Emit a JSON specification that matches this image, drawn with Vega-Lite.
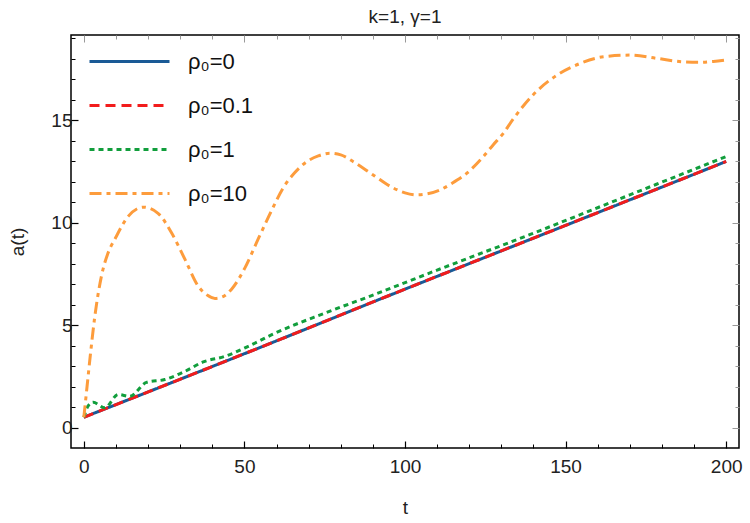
{
  "$schema": "https://vega.github.io/schema/vega-lite/v6.json",
  "autosize": {"type": "none"},
  "padding": {"left": 71, "top": 35, "right": 11, "bottom": 75},
  "width": 668,
  "height": 413,
  "title": {"text": "k=1, γ=1", "fontSize": 19, "font": "Liberation Sans", "fontWeight": "normal", "color": "#222", "offset": 8, "anchor": "middle"},
  "config": {
    "view": {"stroke": "black", "strokeWidth": 1.5},
    "axis": {"grid": false, "domain": false, "labelFont": "Liberation Sans", "titleFont": "Liberation Sans", "labelColor": "#222", "titleColor": "#222", "titleFontWeight": "normal"}
  },
  "datasets": {
    "curves": [
      {"t": 0, "a": 0.5, "s": "ρ₀=0"},
      {"t": 50, "a": 3.6, "s": "ρ₀=0"},
      {"t": 100, "a": 6.75, "s": "ρ₀=0"},
      {"t": 150, "a": 9.86, "s": "ρ₀=0"},
      {"t": 200, "a": 12.98, "s": "ρ₀=0"},
      {"t": 0, "a": 0.5, "s": "ρ₀=0.1"},
      {"t": 50, "a": 3.6, "s": "ρ₀=0.1"},
      {"t": 100, "a": 6.75, "s": "ρ₀=0.1"},
      {"t": 150, "a": 9.86, "s": "ρ₀=0.1"},
      {"t": 200, "a": 12.98, "s": "ρ₀=0.1"},
      {"t": 0, "a": 0.5, "s": "ρ₀=1"},
      {"t": 1.3, "a": 1.04, "s": "ρ₀=1"},
      {"t": 2.9, "a": 1.23, "s": "ρ₀=1"},
      {"t": 6.5, "a": 0.96, "s": "ρ₀=1"},
      {"t": 10.7, "a": 1.61, "s": "ρ₀=1"},
      {"t": 14.3, "a": 1.52, "s": "ρ₀=1"},
      {"t": 19.5, "a": 2.2, "s": "ρ₀=1"},
      {"t": 25.2, "a": 2.34, "s": "ρ₀=1"},
      {"t": 31.5, "a": 2.74, "s": "ρ₀=1"},
      {"t": 37.2, "a": 3.2, "s": "ρ₀=1"},
      {"t": 43.9, "a": 3.47, "s": "ρ₀=1"},
      {"t": 51.2, "a": 3.96, "s": "ρ₀=1"},
      {"t": 59.5, "a": 4.6, "s": "ρ₀=1"},
      {"t": 75, "a": 5.58, "s": "ρ₀=1"},
      {"t": 89, "a": 6.4, "s": "ρ₀=1"},
      {"t": 110, "a": 7.68, "s": "ρ₀=1"},
      {"t": 139, "a": 9.42, "s": "ρ₀=1"},
      {"t": 170, "a": 11.35, "s": "ρ₀=1"},
      {"t": 200, "a": 13.22, "s": "ρ₀=1"},
      {"t": 0, "a": 0.5, "s": "ρ₀=10"},
      {"t": 1, "a": 2.0, "s": "ρ₀=10"},
      {"t": 2, "a": 3.5, "s": "ρ₀=10"},
      {"t": 3.4, "a": 5.4, "s": "ρ₀=10"},
      {"t": 5.5, "a": 7.4, "s": "ρ₀=10"},
      {"t": 7.5, "a": 8.5, "s": "ρ₀=10"},
      {"t": 9.7, "a": 9.2, "s": "ρ₀=10"},
      {"t": 13.8, "a": 10.3, "s": "ρ₀=10"},
      {"t": 18.5, "a": 10.75, "s": "ρ₀=10"},
      {"t": 23.1, "a": 10.45, "s": "ρ₀=10"},
      {"t": 27.3, "a": 9.5, "s": "ρ₀=10"},
      {"t": 31.5, "a": 8.2, "s": "ρ₀=10"},
      {"t": 35.6, "a": 6.9, "s": "ρ₀=10"},
      {"t": 38.5, "a": 6.45, "s": "ρ₀=10"},
      {"t": 40.8, "a": 6.3, "s": "ρ₀=10"},
      {"t": 43.5, "a": 6.4, "s": "ρ₀=10"},
      {"t": 46, "a": 6.75, "s": "ρ₀=10"},
      {"t": 50.2, "a": 7.8, "s": "ρ₀=10"},
      {"t": 54.3, "a": 9.2, "s": "ρ₀=10"},
      {"t": 58.5, "a": 10.6, "s": "ρ₀=10"},
      {"t": 62.1, "a": 11.7, "s": "ρ₀=10"},
      {"t": 65.5, "a": 12.4, "s": "ρ₀=10"},
      {"t": 69.4, "a": 12.97, "s": "ρ₀=10"},
      {"t": 73, "a": 13.25, "s": "ρ₀=10"},
      {"t": 76.6, "a": 13.38, "s": "ρ₀=10"},
      {"t": 80, "a": 13.3, "s": "ρ₀=10"},
      {"t": 83.9, "a": 12.97, "s": "ρ₀=10"},
      {"t": 90.1, "a": 12.32, "s": "ρ₀=10"},
      {"t": 96.4, "a": 11.68, "s": "ρ₀=10"},
      {"t": 100, "a": 11.45, "s": "ρ₀=10"},
      {"t": 103.6, "a": 11.35, "s": "ρ₀=10"},
      {"t": 107, "a": 11.4, "s": "ρ₀=10"},
      {"t": 110.9, "a": 11.59, "s": "ρ₀=10"},
      {"t": 114.5, "a": 11.9, "s": "ρ₀=10"},
      {"t": 119.2, "a": 12.4, "s": "ρ₀=10"},
      {"t": 124.4, "a": 13.22, "s": "ρ₀=10"},
      {"t": 127.5, "a": 13.8, "s": "ρ₀=10"},
      {"t": 130.6, "a": 14.35, "s": "ρ₀=10"},
      {"t": 133.7, "a": 15.05, "s": "ρ₀=10"},
      {"t": 140, "a": 16.25, "s": "ρ₀=10"},
      {"t": 147.3, "a": 17.19, "s": "ρ₀=10"},
      {"t": 154.5, "a": 17.76, "s": "ρ₀=10"},
      {"t": 161.8, "a": 18.09, "s": "ρ₀=10"},
      {"t": 170.1, "a": 18.17, "s": "ρ₀=10"},
      {"t": 178.4, "a": 18.01, "s": "ρ₀=10"},
      {"t": 186.7, "a": 17.84, "s": "ρ₀=10"},
      {"t": 191.9, "a": 17.82, "s": "ρ₀=10"},
      {"t": 196, "a": 17.86, "s": "ρ₀=10"},
      {"t": 200, "a": 17.93, "s": "ρ₀=10"}
    ]
  },
  "data": {"name": "curves"},
  "resolve": {"axis": {"x": "independent", "y": "independent"}},
  "layer": [
    {
      "mark": {"type": "line", "strokeWidth": 3, "interpolate": "monotone", "clip": true},
      "encoding": {
        "x": {"field": "t", "type": "quantitative", "scale": {"domain": [-4, 204], "nice": false, "zero": false},
              "axis": {"orient": "bottom", "title": "t", "values": [0, 50, 100, 150, 200], "tickSize": -7, "tickColor": "black", "tickWidth": 1.2, "labelPadding": 16, "labelFontSize": 19, "titleFontSize": 19, "titlePadding": 22}},
        "y": {"field": "a", "type": "quantitative", "scale": {"domain": [-1, 19.15], "nice": false, "zero": false},
              "axis": {"orient": "left", "title": "a(t)", "values": [0, 5, 10, 15], "tickSize": -7, "tickColor": "black", "tickWidth": 1.2, "labelPadding": 6, "labelFontSize": 19, "titleFontSize": 19, "titlePadding": 23}},
        "color": {"field": "s", "type": "nominal",
                  "scale": {"domain": ["ρ₀=0", "ρ₀=0.1", "ρ₀=1", "ρ₀=10"], "range": ["#1a5a96", "#f21c1c", "#119e3c", "#fd9c3c"]},
                  "legend": {"orient": "none", "legendX": 47, "legendY": 15, "title": null, "symbolType": "M-4,0H4", "symbolSize": 400, "symbolStrokeWidth": 3, "labelFontSize": 22, "labelFont": "Liberation Sans", "labelColor": "#111", "rowPadding": 21, "labelOffset": 47}},
        "strokeDash": {"field": "s", "type": "nominal",
                  "scale": {"domain": ["ρ₀=0", "ρ₀=0.1", "ρ₀=1", "ρ₀=10"], "range": [[1, 0], [10, 6], [5, 4], [12, 5, 4, 5]]},
                  "legend": null},
        "order": {"field": "t", "type": "quantitative"}
      }
    },
    {
      "mark": {"type": "point", "opacity": 0},
      "encoding": {
        "x": {"field": "t", "type": "quantitative", "axis": {"orient": "bottom", "title": null, "labels": false, "values": [10, 20, 30, 40, 60, 70, 80, 90, 110, 120, 130, 140, 160, 170, 180, 190], "tickSize": -4, "tickColor": "black", "tickWidth": 1}},
        "y": {"field": "a", "type": "quantitative", "axis": {"orient": "left", "title": null, "labels": false, "values": [1, 2, 3, 4, 6, 7, 8, 9, 11, 12, 13, 14, 16, 17, 18, 19], "tickSize": -4, "tickColor": "black", "tickWidth": 1}}
      }
    },
    {
      "mark": {"type": "point", "opacity": 0},
      "encoding": {
        "x": {"field": "t", "type": "quantitative", "axis": {"orient": "top", "title": null, "labels": false, "values": [0, 50, 100, 150, 200], "tickSize": -7, "tickColor": "#999", "tickWidth": 1}},
        "y": {"field": "a", "type": "quantitative", "axis": {"orient": "right", "title": null, "labels": false, "values": [0, 5, 10, 15], "tickSize": -7, "tickColor": "#999", "tickWidth": 1}}
      }
    },
    {
      "mark": {"type": "point", "opacity": 0},
      "encoding": {
        "x": {"field": "t", "type": "quantitative", "axis": {"orient": "top", "title": null, "labels": false, "values": [10, 20, 30, 40, 60, 70, 80, 90, 110, 120, 130, 140, 160, 170, 180, 190], "tickSize": -4, "tickColor": "#999", "tickWidth": 1}},
        "y": {"field": "a", "type": "quantitative", "axis": {"orient": "right", "title": null, "labels": false, "values": [1, 2, 3, 4, 6, 7, 8, 9, 11, 12, 13, 14, 16, 17, 18, 19], "tickSize": -4, "tickColor": "#999", "tickWidth": 1}}
      }
    }
  ]
}
